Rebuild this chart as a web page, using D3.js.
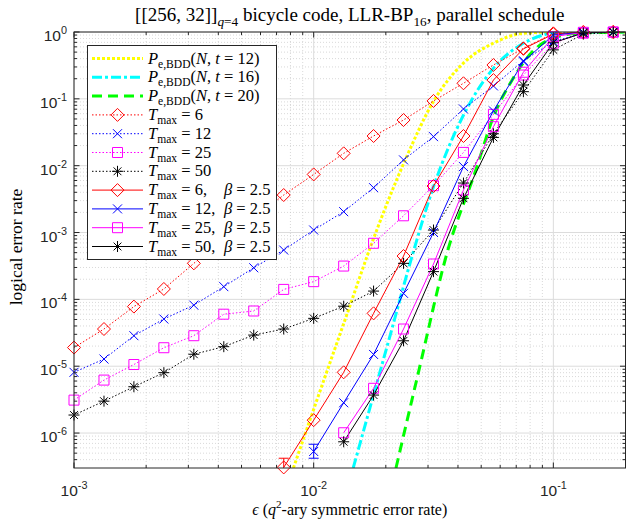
<!DOCTYPE html>
<html>
<head>
<meta charset="utf-8">
<script src="https://cdn.jsdelivr.net/npm/d3@7"></script>
<style>
  body { margin: 0; background: #fff; }
  svg { display: block; }
  text { white-space: pre; }
</style>
</head>
<body>
<div id="main"></div>
<script>
// symmetric error rate grid (x values of the simulated points)
const eps = [0.001, 0.001334, 0.001778, 0.002371, 0.003162, 0.004217, 0.005623, 0.007499,
             0.01, 0.01334, 0.01778, 0.02371, 0.03162, 0.04217, 0.05623, 0.07499,
             0.1, 0.1334, 0.1778];

// LLR-BP, no damping
const tmax6  = [1.9e-5, 3.6e-5, 7.8e-5, 1.43e-4, 3.46e-4, 7.6e-4, 1.66e-3, 3.64e-3, 7.4e-3, 1.53e-2, 2.78e-2, 4.82e-2, 9.3e-2, 0.171, 0.321, 0.57, 0.955, 0.99, 1.0];
const tmax12 = [8.1e-6, 1.28e-5, 2.86e-5, 5.08e-5, 8.2e-5, 1.55e-4, 2.97e-4, 5.47e-4, 1.09e-3, 2.05e-3, 4.69e-3, 1.22e-2, 2.72e-2, 7.05e-2, 0.156, 0.372, 0.716, 0.97, 0.995];
const tmax25 = [3.11e-6, 6.2e-6, 1.06e-5, 1.89e-5, 2.86e-5, 6.0e-5, 6.7e-5, 1.41e-4, 1.84e-4, 3.15e-4, 6.9e-4, 1.78e-3, 5.02e-3, 1.58e-2, 5.86e-2, 0.227, 0.68, 0.96, 0.995];
const tmax50 = [1.86e-6, 3.0e-6, 4.93e-6, 8.0e-6, 1.51e-5, 1.96e-5, 2.92e-5, 3.6e-5, 5.2e-5, 7.9e-5, 1.33e-4, 3.46e-4, 1.09e-3, 5.5e-3, 3.0e-2, 0.128, 0.54, 0.93, 0.99];

// with beta = 2.5 (null = not simulated)
const beta6  = [null, null, null, null, null, null, null, 3.06e-7, 1.56e-6, 8.1e-6, 6.18e-5, 4.45e-4, 4.96e-3, 2.78e-2, 0.191, 0.56, 0.93, 1.0, 1.0];
const beta12 = [null, null, null, null, null, null, null, null, 5.3e-7, 2.84e-6, 1.5e-5, 1.23e-4, 1.0e-3, 9.7e-3, 6.6e-2, 0.36, 0.9, 0.99, 1.0];
const beta25 = [null, null, null, null, null, null, null, null, null, 1.01e-6, 4.67e-6, 3.6e-5, 3.38e-4, 4.32e-3, 3.83e-2, 0.25, 0.85, 0.99, 1.0];
const beta50 = [null, null, null, null, null, null, null, null, null, 7.4e-7, 3.7e-6, 2.4e-5, 2.6e-4, 3.25e-3, 2.65e-2, 0.161, 0.69, 0.97, 1.0];

// error bars of the lowest points: [series index, eps index, low, high]
const errBars = [[4, 7, 2.0e-7, 4.2e-7], [5, 8, 4.2e-7, 6.8e-7]];

// bounded distance decoding curves
const bdd12X = [0.00823, 0.00988, 0.01396, 0.01707, 0.0241, 0.03155, 0.04206, 0.0561, 0.0748, 0.1, 0.2];
const bdd12Y = [3.0e-7, 2.0e-6, 6.9e-5, 5.47e-4, 1.22e-2, 9.06e-2, 0.34, 0.678, 0.955, 0.998, 1.0];
const bdd16X = [0.01462, 0.01694, 0.02085, 0.02546, 0.03162, 0.0422, 0.0562, 0.075, 0.1, 0.1334, 0.2];
const bdd16Y = [3.0e-7, 2.0e-6, 2.9e-5, 3.87e-4, 4.84e-3, 5.73e-2, 0.286, 0.678, 0.955, 0.995, 1.0];
const bdd20X = [0.02205, 0.0272, 0.0363, 0.0475, 0.0566, 0.0673, 0.0815, 0.1, 0.1334, 0.2];
const bdd20Y = [3.0e-7, 7.4e-6, 5.47e-4, 8.6e-3, 5.73e-2, 0.191, 0.50, 0.81, 0.97, 1.0];

const xTicks = [1e-3, 1e-2, 1e-1];
const yTicks = [1e-6, 1e-5, 1e-4, 1e-3, 1e-2, 1e-1, 1];

const W = 626, H = 521;
const plot = {left: 74, right: 625.5, top: 32, bottom: 468};
const axisColor = "#262626";
const serif = "'Liberation Serif', 'Times New Roman', serif";
const sans = "'Liberation Sans', Arial, sans-serif";

const svg = d3.select("#main").append("svg").attr("width", W).attr("height", H);

const x = d3.scaleLog().domain([1e-3, 0.2]).range([plot.left, plot.right]);
const y = d3.scaleLog().domain([3e-7, 1]).range([plot.bottom, plot.top]);

const isMajor = v => Math.abs(Math.log10(v) - Math.round(Math.log10(v))) < 1e-9;
const xMinor = x.ticks().filter(v => !isMajor(v) && v < 0.2);
const yMinor = y.ticks().filter(v => !isMajor(v) && v > 3e-7);

// grid
const grid = svg.append("g");
grid.selectAll(".xm").data(xMinor).enter().append("line")
    .attr("x1", d => x(d)).attr("x2", d => x(d)).attr("y1", plot.top).attr("y2", plot.bottom)
    .attr("stroke", "#c8c8c8").attr("stroke-width", 0.7).attr("stroke-dasharray", "1,2");
grid.selectAll(".ym").data(yMinor).enter().append("line")
    .attr("y1", d => y(d)).attr("y2", d => y(d)).attr("x1", plot.left).attr("x2", plot.right)
    .attr("stroke", "#c8c8c8").attr("stroke-width", 0.7).attr("stroke-dasharray", "1,2");
grid.selectAll(".xM").data(xTicks).enter().append("line")
    .attr("x1", d => x(d)).attr("x2", d => x(d)).attr("y1", plot.top).attr("y2", plot.bottom)
    .attr("stroke", "#dcdcdc").attr("stroke-width", 1);
grid.selectAll(".yM").data(yTicks).enter().append("line")
    .attr("y1", d => y(d)).attr("y2", d => y(d)).attr("x1", plot.left).attr("x2", plot.right)
    .attr("stroke", "#dcdcdc").attr("stroke-width", 1);

// clip for the lines
svg.append("clipPath").attr("id", "clip").append("rect")
    .attr("x", plot.left).attr("y", plot.top)
    .attr("width", plot.right - plot.left).attr("height", plot.bottom - plot.top);

const lineG = svg.append("g").attr("clip-path", "url(#clip)");
const markG = svg.append("g");

// BDD curves
const bddLine = d3.line().x(d => x(d[0])).y(d => y(d[1])).curve(d3.curveMonotoneX);
const bdds = [
    {xs: bdd12X, ys: bdd12Y, color: "#ffff00", dash: "3,2"},
    {xs: bdd16X, ys: bdd16Y, color: "#00ffff", dash: "10,3,3,3"},
    {xs: bdd20X, ys: bdd20Y, color: "#00ff00", dash: "10,6"}
];
bdds.forEach(b => {
    lineG.append("path")
        .attr("d", bddLine(b.xs.map((v, i) => [v, b.ys[i]])))
        .attr("fill", "none").attr("stroke", b.color)
        .attr("stroke-width", 3).attr("stroke-dasharray", b.dash);
});

// simulated series
const series = [
    {vals: tmax6, color: "#ff0000", marker: "diamond", dotted: true},
    {vals: tmax12, color: "#0000ff", marker: "x", dotted: true},
    {vals: tmax25, color: "#ff00ff", marker: "square", dotted: true},
    {vals: tmax50, color: "#000000", marker: "star", dotted: true},
    {vals: beta6, color: "#ff0000", marker: "diamond", dotted: false},
    {vals: beta12, color: "#0000ff", marker: "x", dotted: false},
    {vals: beta25, color: "#ff00ff", marker: "square", dotted: false},
    {vals: beta50, color: "#000000", marker: "star", dotted: false}
];

function markerPath(type) {
    if (type === "diamond") return "M0,-6.5L6.5,0L0,6.5L-6.5,0Z";
    if (type === "x") return "M-4.5,-4.5L4.5,4.5M-4.5,4.5L4.5,-4.5";
    if (type === "square") return "M-5,-5H5V5H-5Z";
    // asterisk
    return "M-5.5,0H5.5M0,-5.5V5.5M-3.9,-3.9L3.9,3.9M-3.9,3.9L3.9,-3.9";
}

const simLine = d3.line().defined(d => d[1] != null).x(d => x(d[0])).y(d => y(d[1]));

series.forEach(s => {
    const pts = eps.map((e, i) => [e, s.vals[i]]);
    lineG.append("path")
        .attr("d", simLine(pts))
        .attr("fill", "none").attr("stroke", s.color)
        .attr("stroke-width", 1)
        .attr("stroke-dasharray", s.dotted ? "1.5,2" : null);
});

// error bars (clipped like the lines)
errBars.forEach(([si, k, lo, hi]) => {
    const s = series[si], cx = x(eps[k]);
    const g = lineG.append("g").attr("stroke", s.color).attr("stroke-width", 1);
    g.append("line").attr("x1", cx).attr("x2", cx).attr("y1", y(lo)).attr("y2", y(hi));
    g.append("line").attr("x1", cx - 5).attr("x2", cx + 5).attr("y1", y(hi)).attr("y2", y(hi));
    g.append("line").attr("x1", cx - 5).attr("x2", cx + 5).attr("y1", y(lo)).attr("y2", y(lo));
});

series.forEach(s => {
    const pts = eps.map((e, i) => [e, s.vals[i]]).filter(d => d[1] != null);
    markG.selectAll(null).data(pts).enter().append("path")
        .attr("transform", d => `translate(${x(d[0])},${y(d[1])})`)
        .attr("d", markerPath(s.marker))
        .attr("fill", "none").attr("stroke", s.color).attr("stroke-width", 1);
});

// axes box and ticks
const axG = svg.append("g").attr("stroke", axisColor).attr("stroke-width", 1);
axG.append("rect").attr("x", plot.left).attr("y", plot.top)
    .attr("width", plot.right - plot.left).attr("height", plot.bottom - plot.top)
    .attr("fill", "none");
const tickLen = (v) => isMajor(v) ? 5.5 : 3;
[...xTicks, ...xMinor].forEach(v => {
    axG.append("line").attr("x1", x(v)).attr("x2", x(v)).attr("y1", plot.bottom).attr("y2", plot.bottom - tickLen(v));
    axG.append("line").attr("x1", x(v)).attr("x2", x(v)).attr("y1", plot.top).attr("y2", plot.top + tickLen(v));
});
[...yTicks, ...yMinor].forEach(v => {
    axG.append("line").attr("y1", y(v)).attr("y2", y(v)).attr("x1", plot.left).attr("x2", plot.left + tickLen(v));
    axG.append("line").attr("y1", y(v)).attr("y2", y(v)).attr("x1", plot.right).attr("x2", plot.right - tickLen(v));
});

// rich text helper: parts with italic / sub / sup
function rich(textSel, parts, size) {
    let shift = 0;
    parts.forEach(p => {
        const ts = textSel.append("tspan").text(p.t);
        if (p.i) ts.attr("font-style", "italic");
        const target = p.sub ? size * 0.25 : p.sup ? -size * 0.45 : 0;
        if (target !== shift) { ts.attr("dy", target - shift); shift = target; }
        if (p.sub || p.sup) ts.attr("font-size", size * 0.7);
        if (p.x != null) ts.attr("x", p.x);
    });
}

// tick labels
xTicks.forEach(v => {
    const t = svg.append("text").attr("x", x(v)).attr("y", 496)
        .attr("text-anchor", "middle").attr("font-family", sans).attr("font-size", 15.5).attr("fill", axisColor);
    rich(t, [{t: "10"}, {t: String(Math.round(Math.log10(v))), sup: true}], 15.5);
});
yTicks.forEach(v => {
    const t = svg.append("text").attr("x", 67).attr("y", y(v) + 9)
        .attr("text-anchor", "end").attr("font-family", sans).attr("font-size", 15.5).attr("fill", axisColor);
    rich(t, [{t: "10"}, {t: String(Math.round(Math.log10(v))), sup: true}], 15.5);
});

// axis labels and title
const xl = svg.append("text").attr("x", (plot.left + plot.right) / 2).attr("y", 515)
    .attr("text-anchor", "middle").attr("font-family", serif).attr("font-size", 16).attr("fill", "#000");
rich(xl, [{t: "ϵ", i: true}, {t: " ("}, {t: "q", i: true}, {t: "2", sup: true}, {t: "-ary symmetric error rate)"}], 16);

svg.append("text").attr("transform", "translate(22,247) rotate(-90)")
    .attr("text-anchor", "middle").attr("font-family", serif).attr("font-size", 17.5)
    .text("logical error rate");

const title = svg.append("text").attr("x", (plot.left + plot.right) / 2).attr("y", 21)
    .attr("text-anchor", "middle").attr("font-family", serif).attr("font-size", 19);
rich(title, [{t: "[[256, 32]]"}, {t: "q", i: true, sub: true}, {t: "=4", sub: true},
             {t: " bicycle code, LLR-BP"}, {t: "16", sub: true}, {t: ", parallel schedule"}], 19);

// legend
const legendItems = [
    {style: bdds[0], parts: [{t: "P", i: true}, {t: "e,BDD", sub: true}, {t: "("}, {t: "N", i: true}, {t: ", "}, {t: "t", i: true}, {t: " = 12)"}]},
    {style: bdds[1], parts: [{t: "P", i: true}, {t: "e,BDD", sub: true}, {t: "("}, {t: "N", i: true}, {t: ", "}, {t: "t", i: true}, {t: " = 16)"}]},
    {style: bdds[2], parts: [{t: "P", i: true}, {t: "e,BDD", sub: true}, {t: "("}, {t: "N", i: true}, {t: ", "}, {t: "t", i: true}, {t: " = 20)"}]},
    {style: series[0], parts: [{t: "T", i: true}, {t: "max", sub: true}, {t: " = 6"}]},
    {style: series[1], parts: [{t: "T", i: true}, {t: "max", sub: true}, {t: " = 12"}]},
    {style: series[2], parts: [{t: "T", i: true}, {t: "max", sub: true}, {t: " = 25"}]},
    {style: series[3], parts: [{t: "T", i: true}, {t: "max", sub: true}, {t: " = 50"}]},
    {style: series[4], parts: [{t: "T", i: true}, {t: "max", sub: true}, {t: " = 6,"}, {t: "β", i: true, x: 224}, {t: " = 2.5"}]},
    {style: series[5], parts: [{t: "T", i: true}, {t: "max", sub: true}, {t: " = 12,"}, {t: "β", i: true, x: 224}, {t: " = 2.5"}]},
    {style: series[6], parts: [{t: "T", i: true}, {t: "max", sub: true}, {t: " = 25,"}, {t: "β", i: true, x: 224}, {t: " = 2.5"}]},
    {style: series[7], parts: [{t: "T", i: true}, {t: "max", sub: true}, {t: " = 50,"}, {t: "β", i: true, x: 224}, {t: " = 2.5"}]}
];
const lg = svg.append("g");
lg.append("rect").attr("x", 87.5).attr("y", 45.5).attr("width", 189).attr("height", 214)
    .attr("fill", "#fff").attr("stroke", axisColor).attr("stroke-width", 1);
legendItems.forEach((it, i) => {
    const cy = 58.5 + i * 18.8;
    const s = it.style;
    lg.append("line").attr("x1", 92).attr("x2", 143).attr("y1", cy).attr("y2", cy)
        .attr("stroke", s.color)
        .attr("stroke-width", s.marker ? 1 : 3)
        .attr("stroke-dasharray", s.marker ? (s.dotted ? "1.5,2" : null) : s.dash);
    if (s.marker) {
        lg.append("path").attr("transform", `translate(117.5,${cy})`)
            .attr("d", markerPath(s.marker)).attr("fill", "none").attr("stroke", s.color);
    }
    const t = lg.append("text").attr("x", 148).attr("y", cy + 5)
        .attr("font-family", serif).attr("font-size", 16.5);
    rich(t, it.parts, 16.5);
});
</script>
</body>
</html>
